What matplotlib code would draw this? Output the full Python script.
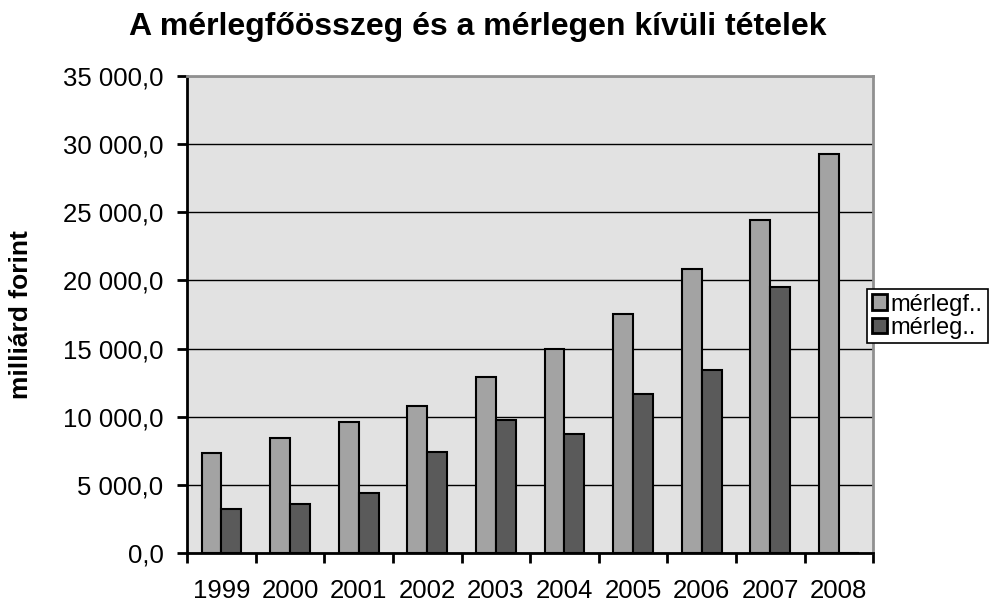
import numpy as np
import matplotlib
matplotlib.use('Agg')
import matplotlib.pyplot as plt
from matplotlib.ticker import FuncFormatter, FixedLocator

plt.rcParams['font.family'] = ['Liberation Sans', 'DejaVu Sans']

years = ['1999', '2000', '2001', '2002', '2003', '2004', '2005', '2006', '2007', '2008']
merlegfoosszeg = [7330, 8440, 9610, 10790, 12910, 14970, 17530, 20840, 24430, 29270]
merlegen_kivuli = [3230, 3600, 4400, 7410, 9760, 8730, 11670, 13430, 19520, 0]
labels = ['mérlegf..', 'mérleg..']

fig = plt.figure(figsize=(10.06, 6.03), dpi=100)
ax = fig.add_axes([0.186, 0.083, 0.682, 0.791])
ax.set_facecolor('#e2e2e2')

x = np.arange(len(years))
w = 0.29
ax.bar(x - w / 2, merlegfoosszeg, w, color='#a3a3a3', edgecolor='black', linewidth=1.5,
       label=labels[0], zorder=3)
ax.bar(x + w / 2, merlegen_kivuli, w, color='#5a5a5a', edgecolor='black', linewidth=1.5,
       label=labels[1], zorder=3)

ax.set_xlim(-0.5, len(years) - 0.5)
ax.set_ylim(0, 35000)
ax.set_yticks(np.arange(0, 35001, 5000))
ax.yaxis.set_major_formatter(FuncFormatter(lambda v, p: f'{v:,.1f}'.replace(',', ' ').replace('.', ',')))
ax.grid(axis='y', color='black', linewidth=1, zorder=1)

ax.set_xticks(x)
ax.set_xticklabels(years)
ax.xaxis.set_minor_locator(FixedLocator(np.arange(-0.5, len(years), 1)))
ax.tick_params(axis='x', which='major', length=0, pad=19, labelsize=18.5)
ax.tick_params(axis='x', which='minor', length=7, width=2, direction='out')
ax.tick_params(axis='y', length=7, width=2, labelsize=18.5, pad=10)

for s in ['left', 'bottom']:
    ax.spines[s].set_linewidth(2)
    ax.spines[s].set_color('black')
for s in ['top', 'right']:
    ax.spines[s].set_linewidth(2)
    ax.spines[s].set_color('#909090')

ax.set_ylabel('milliárd forint', fontsize=19, fontweight='bold')
ax.yaxis.set_label_coords(-0.224, 0.5)
fig.suptitle('A mérlegfőösszeg és a mérlegen kívüli tételek', fontsize=23,
             fontweight='bold', x=0.475, y=0.98)

leg = fig.legend(loc='upper left', bbox_to_anchor=(0.862, 0.521), fontsize=17,
                 frameon=True, fancybox=False, edgecolor='black', framealpha=1,
                 handlelength=0.65, handleheight=0.65, handletextpad=0.15,
                 borderpad=0.2, labelspacing=0.05, borderaxespad=0)
leg.get_frame().set_linewidth(1.2)
for h in leg.legend_handles:
    h.set_linewidth(2)

fig.savefig('out.png', dpi=100)
